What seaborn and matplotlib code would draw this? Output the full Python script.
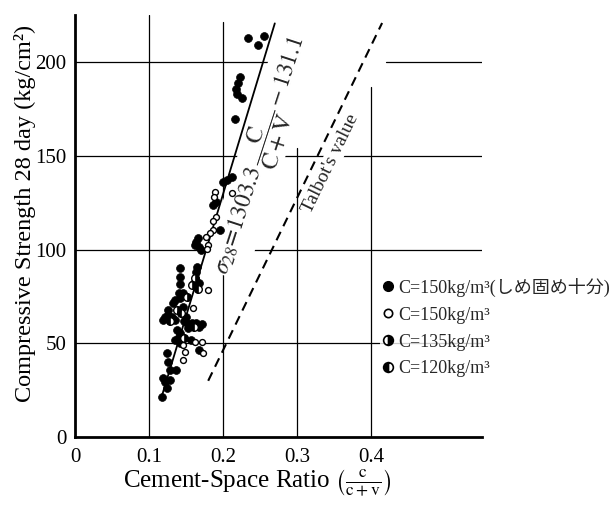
import matplotlib
matplotlib.use("Agg")
import matplotlib.pyplot as plt
from matplotlib.lines import Line2D
from matplotlib.markers import MarkerStyle
import seaborn as sns
import pandas as pd

# ---------------- data ----------------
# C=150kg/m3 (compacted) - filled
full_x = [0.234, 0.256, 0.247, 0.223, 0.220, 0.217, 0.219, 0.225, 0.216,
          0.200, 0.206, 0.212, 0.191, 0.186, 0.196,
          0.164, 0.167, 0.170, 0.162, 0.166,
          0.142, 0.142, 0.142, 0.164, 0.168, 0.165, 0.163,
          0.140, 0.135, 0.142, 0.146,
          0.133, 0.146, 0.126, 0.119, 0.131, 0.122, 0.125, 0.135, 0.150,
          0.151, 0.158, 0.164, 0.171, 0.153, 0.147, 0.167,
          0.142, 0.140, 0.135, 0.142, 0.138, 0.167, 0.157,
          0.124, 0.126, 0.137, 0.128, 0.122, 0.124, 0.117, 0.119, 0.128]
full_y = [213, 214, 209, 192, 189, 186, 183, 181, 170,
          136, 137, 139, 125.5, 124, 110.5,
          104, 101.6, 100, 102.5, 106,
          90, 85.6, 81.5, 88, 82, 91, 83,
          76.7, 73, 74, 77,
          71.4, 69.5, 65, 62.5, 64, 64, 67.8, 62.5, 64,
          60.7, 61, 60.7, 60.3, 58, 62, 58.5,
          55.3, 53.5, 51.8, 50, 57, 46.4, 52,
          44.7, 40.2, 35.8, 35.8, 29.5, 26, 21.5, 31.3, 30.4]
# C=150kg/m3 - open
open_x = [0.212, 0.189, 0.188, 0.191, 0.186, 0.187, 0.182, 0.177,
          0.180, 0.179, 0.160, 0.180, 0.160,
          0.146, 0.149, 0.146, 0.162, 0.171, 0.173]
open_y = [130, 131, 128, 117.5, 115.5, 110.5, 108.7, 106.6,
          102.5, 100.5, 82, 78.5, 68.7,
          49, 45.5, 41, 50.9, 50.9, 44.7]
# C=135kg/m3 - half filled
c135_x = [0.162, 0.151, 0.147, 0.158, 0.138]
c135_y = [85, 75, 53, 81, 68]
# C=120kg/m3 - half filled
c120_x = [0.166, 0.143, 0.161, 0.128]
c120_y = [79, 66, 58.5, 62]

# regression line  sigma28 = 1303.3 * C/(C+V) - 131.1
reg_slope, reg_icpt = 1303.3, -131.1
reg_x = [0.117, 0.270]
reg_y = [reg_slope * v + reg_icpt for v in reg_x]
# Talbot's value
talbot_x = [0.180, 0.415]
talbot_y = [30, 221]

x_ticks = [0, 0.1, 0.2, 0.3, 0.4]
x_ticklabels = ["0", "0.1", "0.2", "0.3", "0.4"]
y_ticks = [0, 50, 100, 150, 200]
y_ticklabels = ["0", "50", "100", "150", "200"]

legend_labels = ["C=150kg/m³(しめ固め十分)", "C=150kg/m³",
                 "C=135kg/m³", "C=120kg/m³"]

# ---------------- style ----------------
sns.set_theme(style="white")
plt.rcParams["font.family"] = ["Liberation Serif", "Noto Sans CJK JP"]
plt.rcParams["mathtext.fontset"] = "stix"

fig = plt.figure(figsize=(6.1, 5.11), dpi=100)
ax = fig.add_axes([75 / 610, 74 / 511, 407 / 610, 421.5 / 511])

ax.set_xlim(0, 0.55)
ax.set_ylim(0, 225)

# grid (printed chart: some grid lines are interrupted)
vgrid_top = {0.1: 1.0, 0.2: 0.985, 0.3: 0.685, 0.4: 0.83}
for xv in x_ticks[1:]:
    ax.axvline(xv, ymin=0, ymax=vgrid_top[xv], color="black", lw=0.9, zorder=1)
for yv in y_ticks[1:]:
    if yv == 200:
        ax.axhline(yv, xmin=0, xmax=0.272 / 0.55, color="black", lw=0.9, zorder=1)
        ax.axhline(yv, xmin=0.42 / 0.55, xmax=1, color="black", lw=0.9, zorder=1)
    else:
        ax.axhline(yv, color="black", lw=0.9, zorder=1)

# lines
sns.lineplot(x=reg_x, y=reg_y, ax=ax, color="black", lw=1.3, zorder=4)
sns.lineplot(x=talbot_x, y=talbot_y, ax=ax, color="black", lw=1.5,
             linestyle=(0, (4.5, 3)), zorder=4)

# points
df_full = pd.DataFrame({"x": full_x, "y": full_y})
df_open = pd.DataFrame({"x": open_x, "y": open_y})
df_135 = pd.DataFrame({"x": c135_x, "y": c135_y})
df_120 = pd.DataFrame({"x": c120_x, "y": c120_y})

sns.scatterplot(data=df_full, x="x", y="y", ax=ax, marker="o", s=32,
                color="black", edgecolor="black", linewidth=0.5, zorder=5)
sns.scatterplot(data=df_open, x="x", y="y", ax=ax, marker="o", s=18,
                facecolor="white", edgecolor="black", linewidth=1.0, zorder=6)
for dfh, fs in ((df_135, "right"), (df_120, "left")):
    sns.scatterplot(data=dfh, x="x", y="y", ax=ax, marker="o", s=30,
                    facecolor="white", edgecolor="black", linewidth=1.0, zorder=6)
    sns.scatterplot(data=dfh, x="x", y="y", ax=ax,
                    marker=MarkerStyle("o", fillstyle=fs), s=30,
                    color="black", edgecolor="black", linewidth=0.5, zorder=7)

# texts
ax.text(0.252, 150,
        r"$\sigma_{28}\!=\!1303.3\,\dfrac{\mathrm{C}}{\mathrm{C+V}}-131.1$",
        rotation=72, rotation_mode="anchor", ha="center", va="center",
        fontsize=17, zorder=3,
        bbox=dict(facecolor="white", edgecolor="none", pad=0.5))
ax.text(0.345, 146, "Talbot's value", rotation=64, rotation_mode="anchor",
        ha="center", va="center", fontsize=14, zorder=3,
        bbox=dict(facecolor="white", edgecolor="none", pad=0.5))

# axes
ax.set_xticks(x_ticks)
ax.set_xticklabels(x_ticklabels)
ax.set_yticks(y_ticks)
ax.set_yticklabels(y_ticklabels)
ax.tick_params(axis="both", length=0, labelsize=15, colors="black")
ax.tick_params(axis="x", pad=8)
ax.tick_params(axis="y", pad=6)
for s in ("top", "right"):
    ax.spines[s].set_visible(False)
for s in ("left", "bottom"):
    ax.spines[s].set_color("black")
    ax.spines[s].set_linewidth(2.0)

ax.set_xlabel(r"Cement-Space Ratio $\left(\frac{\mathrm{c}}{\mathrm{c+v}}\right)$",
              fontsize=18, color="black")
ax.xaxis.set_label_coords(0.447, -0.072)
ax.set_ylabel("Compressive Strength 28 day (kg/cm²)", fontsize=17.5,
              color="black")
ax.yaxis.set_label_coords(-0.095, 0.53)

# legend
handles = [
    Line2D([], [], ls="none", marker="o", ms=7, mfc="black", mec="black"),
    Line2D([], [], ls="none", marker="o", ms=6, mfc="white", mec="black", mew=1.2),
    Line2D([], [], ls="none", marker="o", ms=7, mfc="black", mec="black",
           fillstyle="right", markerfacecoloralt="white", mew=1.2),
    Line2D([], [], ls="none", marker="o", ms=7, mfc="black", mec="black",
           fillstyle="left", markerfacecoloralt="white", mew=1.2),
]
leg = ax.legend(handles, legend_labels, loc="upper left",
                bbox_to_anchor=(380 / 610, 1 - 274 / 511),
                bbox_transform=fig.transFigure, frameon=True, fontsize=13,
                handlelength=0.5, handletextpad=0.3, labelspacing=0.55,
                borderpad=0.2, borderaxespad=0)
leg.get_frame().set_facecolor("white")
leg.get_frame().set_edgecolor("none")
leg.set_zorder(8)

fig.savefig("out.png", dpi=100)
